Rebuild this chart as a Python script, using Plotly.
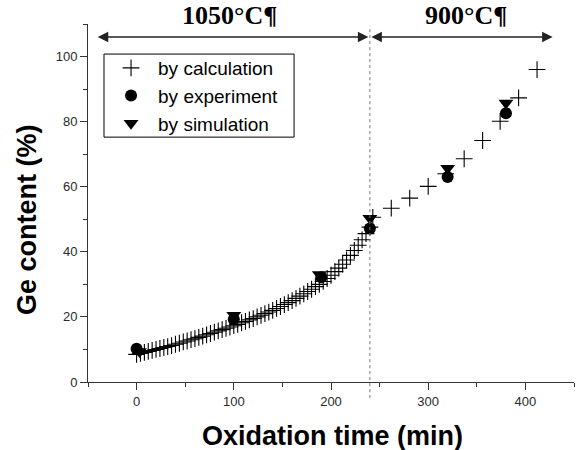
import plotly.graph_objects as go

# ---- data ----
calc_t = [0, 4, 8, 12, 16, 20, 24, 28, 32, 36, 40, 44, 48, 52, 56, 60, 64, 68, 72, 76,
          80, 84, 88, 92, 96, 100, 104, 108, 112, 116, 120, 124, 128, 132, 136, 140,
          144, 148, 152, 156, 160, 164, 168, 172, 176, 180, 184, 188, 192, 196, 200,
          204, 208, 212, 216, 220, 224, 228, 232, 236, 240,
          243, 262, 281, 300, 318, 337, 356, 374, 393, 412]
calc_ge = [8.5, 8.8, 9.1, 9.4, 9.7, 10.0, 10.3, 10.6, 10.9, 11.2, 11.6, 11.9, 12.3, 12.6,
           13.0, 13.3, 13.7, 14.1, 14.5, 14.9, 15.3, 15.7, 16.1, 16.5, 16.9, 17.3, 17.7,
           18.2, 18.6, 19.1, 19.5, 20.0, 20.5, 21.0, 21.5, 22.0, 22.6, 23.2, 23.8, 24.4,
           25.0, 25.7, 26.4, 27.1, 27.8, 28.5, 29.3, 30.0, 30.9, 31.8, 32.8, 33.9, 35.0,
           36.2, 37.5, 38.9, 40.4, 42.0, 43.7, 45.6, 47.6,
           50.6, 53.4, 56.5, 60.1, 64.0, 68.6, 74.2, 80.1, 87.3, 96.0]

exp_t = [0, 100, 190, 240, 320, 380]
exp_ge = [10.2, 19.3, 32.2, 47.2, 63.0, 82.6]

sim_t = [3, 100, 188, 240, 320, 380]
sim_ge = [9.4, 20.5, 33.0, 50.3, 65.7, 85.7]

x_ticks = [0, 100, 200, 300, 400]
y_ticks = [0, 20, 40, 60, 80, 100]

boundary_t = 240
label_low = "1050°C¶"
label_high = "900°C¶"

fig = go.Figure()
fig.add_trace(go.Scatter(
    x=calc_t, y=calc_ge, mode="markers", name="by calculation",
    marker=dict(symbol="cross-thin", size=12, line=dict(width=1.1, color="black"), color="black"),
))
fig.add_trace(go.Scatter(
    x=exp_t, y=exp_ge, mode="markers", name="by experiment",
    marker=dict(symbol="circle", size=12, color="black"),
))
fig.add_trace(go.Scatter(
    x=sim_t, y=sim_ge, mode="markers", name="by simulation",
    marker=dict(symbol="triangle-down", size=13, color="black"),
))

axis_col = "#333333"
tick_font = dict(family="Liberation Sans, Arial", size=13, color="#2a2a2a")

fig.update_layout(
    width=577, height=450,
    margin=dict(l=88, r=3, t=24, b=68),
    paper_bgcolor="white", plot_bgcolor="white",
    showlegend=True,
    legend=dict(
        x=0.033, y=0.930, xanchor="left", yanchor="top",
        borderwidth=0, bgcolor="rgba(0,0,0,0)",
        font=dict(family="Liberation Sans, Arial", size=19, color="black"),
        itemwidth=44, tracegroupgap=0,
    ),
    xaxis=dict(
        range=[-50, 450], tickvals=x_ticks, showgrid=False, zeroline=False,
        showline=True, linecolor=axis_col, linewidth=1,
        ticks="outside", ticklen=7, tickcolor=axis_col, tickwidth=1,
        tickfont=tick_font,
        minor=dict(dtick=50, tick0=0, ticks="outside", ticklen=4, tickcolor=axis_col, showgrid=False),
    ),
    yaxis=dict(
        range=[0, 110], tickvals=y_ticks, showgrid=False, zeroline=False,
        showline=True, linecolor=axis_col, linewidth=1,
        ticks="outside", ticklen=7, tickcolor=axis_col, tickwidth=1,
        tickfont=tick_font,
        minor=dict(dtick=10, tick0=0, ticks="outside", ticklen=4, tickcolor=axis_col, showgrid=False),
    ),
)

# legend frame
fig.add_shape(type="rect", xref="paper", yref="paper", x0=0.0329, x1=0.424, y0=0.684, y1=0.916,
              line=dict(color="black", width=1), fillcolor="rgba(0,0,0,0)")

# dotted boundary line
fig.add_shape(type="line", xref="x", yref="paper", x0=boundary_t, x1=boundary_t,
              y0=-0.045, y1=0.995, line=dict(color="#777777", width=1, dash="dot"))

arrow_y = 106
for x_from, x_to in [(boundary_t, -40), (boundary_t, 428)]:
    fig.add_annotation(x=x_to, y=arrow_y, ax=x_from, ay=arrow_y, xref="x", yref="y",
                       axref="x", ayref="y", text="", showarrow=True,
                       arrowhead=2, startarrowhead=2, arrowside="end+start",
                       arrowsize=1.4, arrowwidth=1.5, arrowcolor="#222222")

temp_font = dict(family="Liberation Serif, Times New Roman", size=26, color="black")
fig.add_annotation(x=96, y=1.025, xref="x", yref="paper", text="<b>" + label_low + "</b>",
                   showarrow=False, font=temp_font, yanchor="middle")
fig.add_annotation(x=339, y=1.025, xref="x", yref="paper", text="<b>" + label_high + "</b>",
                   showarrow=False, font=temp_font, yanchor="middle")

title_font = dict(family="Liberation Sans, Arial", size=27, color="black")
fig.add_annotation(x=0.504, y=-0.151, xref="paper", yref="paper",
                   text="<b>Oxidation time (min)</b>", showarrow=False, font=title_font,
                   xanchor="center", yanchor="middle")
fig.add_annotation(x=-0.1255, y=0.4525, xref="paper", yref="paper",
                   text="<b>Ge content (%)</b>", showarrow=False, font=title_font,
                   textangle=-90, xanchor="center", yanchor="middle")

fig.write_html("out.html", config={"displayModeBar": False},
               post_script="document.body.style.margin='0';")
